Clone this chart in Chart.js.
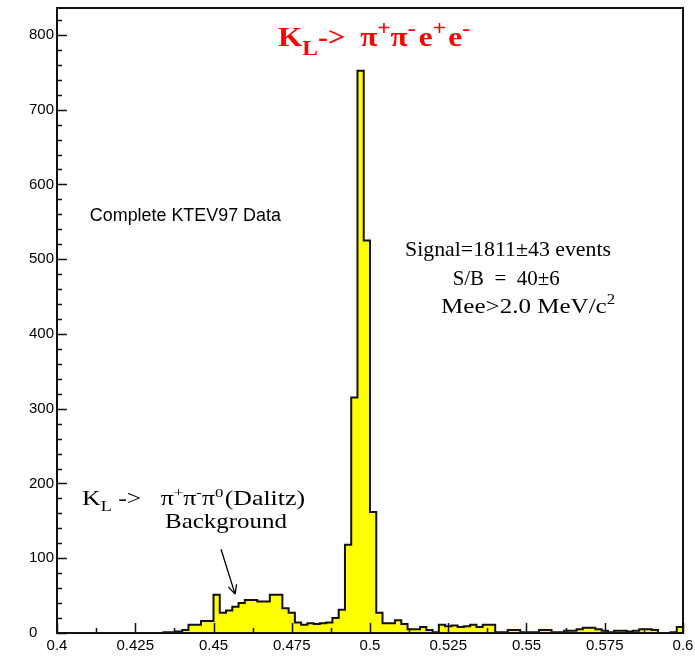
<!DOCTYPE html>
<html><head><meta charset="utf-8">
<script src="https://cdn.jsdelivr.net/npm/chart.js@4.4.1/dist/chart.umd.min.js"></script>
<style>html,body{margin:0;padding:0;background:#fff;overflow:hidden}#wrap{width:695px;height:658px}</style>
</head><body><div id="wrap"><canvas id="c" width="695" height="658"></canvas></div>
<script>
// ---- data ----
const binStart = 0.4;
const binWidth = 0.002;
const counts = [
  0,0,0,0,0,0,0,0,0,0,
  0,0,0,0,0,0,0,1,1,2,
  4,11,11,16,16,51,27,30,35,40,
  44,44,42,42,51,51,33,27,14,11,
  13,12,13,14,20,31,118,315,752,525,
  162,27,13,13,17,12,5,5,8,4,
  1,11,9,10,8,9,11,8,11,11,
  1,1,4,4,1,1,1,4,4,1,
  1,3,3,5,7,7,5,3,1,3,
  3,2,3,5,5,4,0,0,1,8
];
const xTickValues = [0.4,0.425,0.45,0.475,0.5,0.525,0.55,0.575,0.6];
const xTickLabels = ['0.4','0.425','0.45','0.475','0.5','0.525','0.55','0.575','0.6'];
const yTickValues = [0,100,200,300,400,500,600,700,800];
const yTickLabels = ['0','100','200','300','400','500','600','700','800'];
const xMinorStep = 0.0125;
const yMinorStep = 20;
const xRange = [0.4, 0.6];
const yRange = [0, 836];

// histogram outline points (left bin edges)
const stepPoints = [{x: binStart, y: 0}];
counts.forEach((c, i) => stepPoints.push({x: binStart + i * binWidth, y: c}));
stepPoints.push({x: binStart + counts.length * binWidth, y: counts[counts.length - 1]});

const SANS = '"Liberation Sans", Arial, sans-serif';
const SERIF = '"Liberation Serif", "Times New Roman", serif';

function richWidth(ctx, parts, family) {
  let w = 0;
  parts.forEach(p => { ctx.font = (p.bold ? 'bold ' : '') + p.size + 'px ' + family; w += ctx.measureText(p.t).width + (p.gap || 0); });
  return w;
}
// draws text parts; optional target width stretches the run horizontally
function drawRich(ctx, x, y, parts, family, align, target) {
  const nat = richWidth(ctx, parts, family);
  const w = target || nat;
  const sx = w / nat;
  const start = align === 'center' ? x - w / 2 : x;
  ctx.save();
  ctx.translate(start, y);
  ctx.scale(sx, 1);
  ctx.textAlign = 'left';
  ctx.textBaseline = 'alphabetic';
  let cx = 0;
  parts.forEach(p => {
    ctx.font = (p.bold ? 'bold ' : '') + p.size + 'px ' + family;
    ctx.fillText(p.t, cx, p.dy || 0);
    cx += ctx.measureText(p.t).width + (p.gap || 0);
  });
  ctx.restore();
}

const framePlugin = {
  id: 'frame',
  afterDatasetsDraw(chart) {
    const {ctx, chartArea: a, scales: {x, y}} = chart;
    ctx.save();
    ctx.strokeStyle = '#111';
    ctx.lineWidth = 1.5;
    ctx.beginPath();
    for (let v = xRange[0]; v <= xRange[1] + 1e-9; v += xMinorStep) {
      const px = Math.round(x.getPixelForValue(v)) + 0.5;
      const major = Math.abs(v / 0.025 - Math.round(v / 0.025)) < 1e-6;
      ctx.moveTo(px, a.bottom);
      ctx.lineTo(px, a.bottom - (major ? 10 : 5));
    }
    for (let v = yRange[0]; v <= yRange[1]; v += yMinorStep) {
      const py = Math.round(y.getPixelForValue(v)) + 0.5;
      const major = v % 100 === 0;
      ctx.moveTo(a.left, py);
      ctx.lineTo(a.left + (major ? 10 : 5), py);
    }
    ctx.stroke();
    ctx.lineWidth = 2;
    ctx.strokeRect(a.left, a.top, a.right - a.left, a.bottom - a.top);
    ctx.restore();
  }
};

const annotPlugin = {
  id: 'annot',
  afterDraw(chart) {
    const {ctx, scales: {x, y}} = chart;
    const X = v => x.getPixelForValue(v), Y = v => y.getPixelForValue(v);
    ctx.save();
    // title
    ctx.fillStyle = '#ff0000';
    drawRich(ctx, X(0.4706), Y(785), [
      {t: 'K', size: 28, bold: true},
      {t: 'L', size: 21, bold: true, dy: 9},
      {t: '->  ', size: 27, bold: true},
      {t: '\u03c0', size: 28, bold: true},
      {t: '+', size: 21, bold: true, dy: -11},
      {t: '\u03c0', size: 28, bold: true},
      {t: '-', size: 21, bold: true, dy: -11, gap: 3},
      {t: 'e', size: 28, bold: true},
      {t: '+', size: 21, bold: true, dy: -11, gap: 2},
      {t: 'e', size: 28, bold: true},
      {t: '-', size: 21, bold: true, dy: -11}
    ], SERIF, 'left', 192);
    ctx.fillStyle = '#000';
    drawRich(ctx, X(0.4105), Y(551), [{t: 'Complete KTEV97 Data', size: 18}], SANS, 'left', 191);
    drawRich(ctx, X(0.5441), Y(504), [{t: 'Signal=1811\u00b143 events', size: 21}], SERIF, 'center', 206);
    drawRich(ctx, X(0.5435), Y(466), [{t: 'S/B  =  40\u00b16', size: 21}], SERIF, 'center', 107);
    drawRich(ctx, X(0.5505), Y(428), [
      {t: 'Mee>2.0 MeV/c', size: 21},
      {t: '2', size: 14, dy: -9}
    ], SERIF, 'center', 174);
    drawRich(ctx, X(0.4080), Y(171), [
      {t: 'K', size: 20},
      {t: 'L', size: 14, dy: 6, gap: 5},
      {t: '->   ', size: 20},
      {t: '\u03c0', size: 20},
      {t: '+', size: 13, dy: -8},
      {t: '\u03c0', size: 20},
      {t: '-', size: 13, dy: -8},
      {t: '\u03c0', size: 20},
      {t: '0', size: 13, dy: -8, gap: 1},
      {t: '(Dalitz)', size: 20}
    ], SERIF, 'left', 223);
    drawRich(ctx, X(0.4540), Y(140), [{t: 'Background', size: 21}], SERIF, 'center', 122);
    // arrow
    const x1 = X(0.4524), y1 = Y(112), x2 = X(0.4569), y2 = Y(52);
    ctx.strokeStyle = '#000';
    ctx.lineWidth = 1.3;
    ctx.beginPath();
    ctx.moveTo(x1, y1); ctx.lineTo(x2, y2);
    const ang = Math.atan2(y2 - y1, x2 - x1);
    [0.45, -0.45].forEach(d => {
      ctx.moveTo(x2, y2);
      ctx.lineTo(x2 - 10 * Math.cos(ang + d), y2 - 10 * Math.sin(ang + d));
    });
    ctx.stroke();
    ctx.restore();
  }
};

new Chart(document.getElementById('c'), {
  type: 'line',
  data: {
    datasets: [{
      data: stepPoints,
      stepped: true,
      fill: 'origin',
      backgroundColor: '#ffff00',
      borderColor: '#111',
      borderWidth: 2,
      pointRadius: 0,
      tension: 0
    }]
  },
  options: {
    responsive: false,
    animation: false,
    devicePixelRatio: 1,
    layout: {padding: {top: 8, right: 12, left: 29, bottom: 0}},
    plugins: {legend: {display: false}, tooltip: {enabled: false}, title: {display: false}},
    scales: {
      x: {
        type: 'linear', min: xRange[0], max: xRange[1],
        grid: {display: false, drawTicks: false}, border: {display: false},
        ticks: {color: '#000', font: {family: SANS, size: 15}, padding: 4, maxRotation: 0, autoSkip: false,
          callback: (v, i) => xTickLabels[i]},
        afterBuildTicks: s => { s.ticks = xTickValues.map(v => ({value: v})); },
        afterFit: s => { s.height = 25; s.paddingLeft = 0; s.paddingRight = 0; }
      },
      y: {
        type: 'linear', min: yRange[0], max: yRange[1],
        grid: {display: false, drawTicks: false}, border: {display: false},
        ticks: {color: '#000', font: {family: SANS, size: 15}, padding: 4, autoSkip: false, crossAlign: 'far',
          callback: (v, i) => yTickLabels[i]},
        afterBuildTicks: s => { s.ticks = yTickValues.map(v => ({value: v})); },
        afterFit: s => { s.width = 28; s.paddingTop = 0; s.paddingBottom = 0; }
      }
    }
  },
  plugins: [framePlugin, annotPlugin]
});
</script></body></html>
